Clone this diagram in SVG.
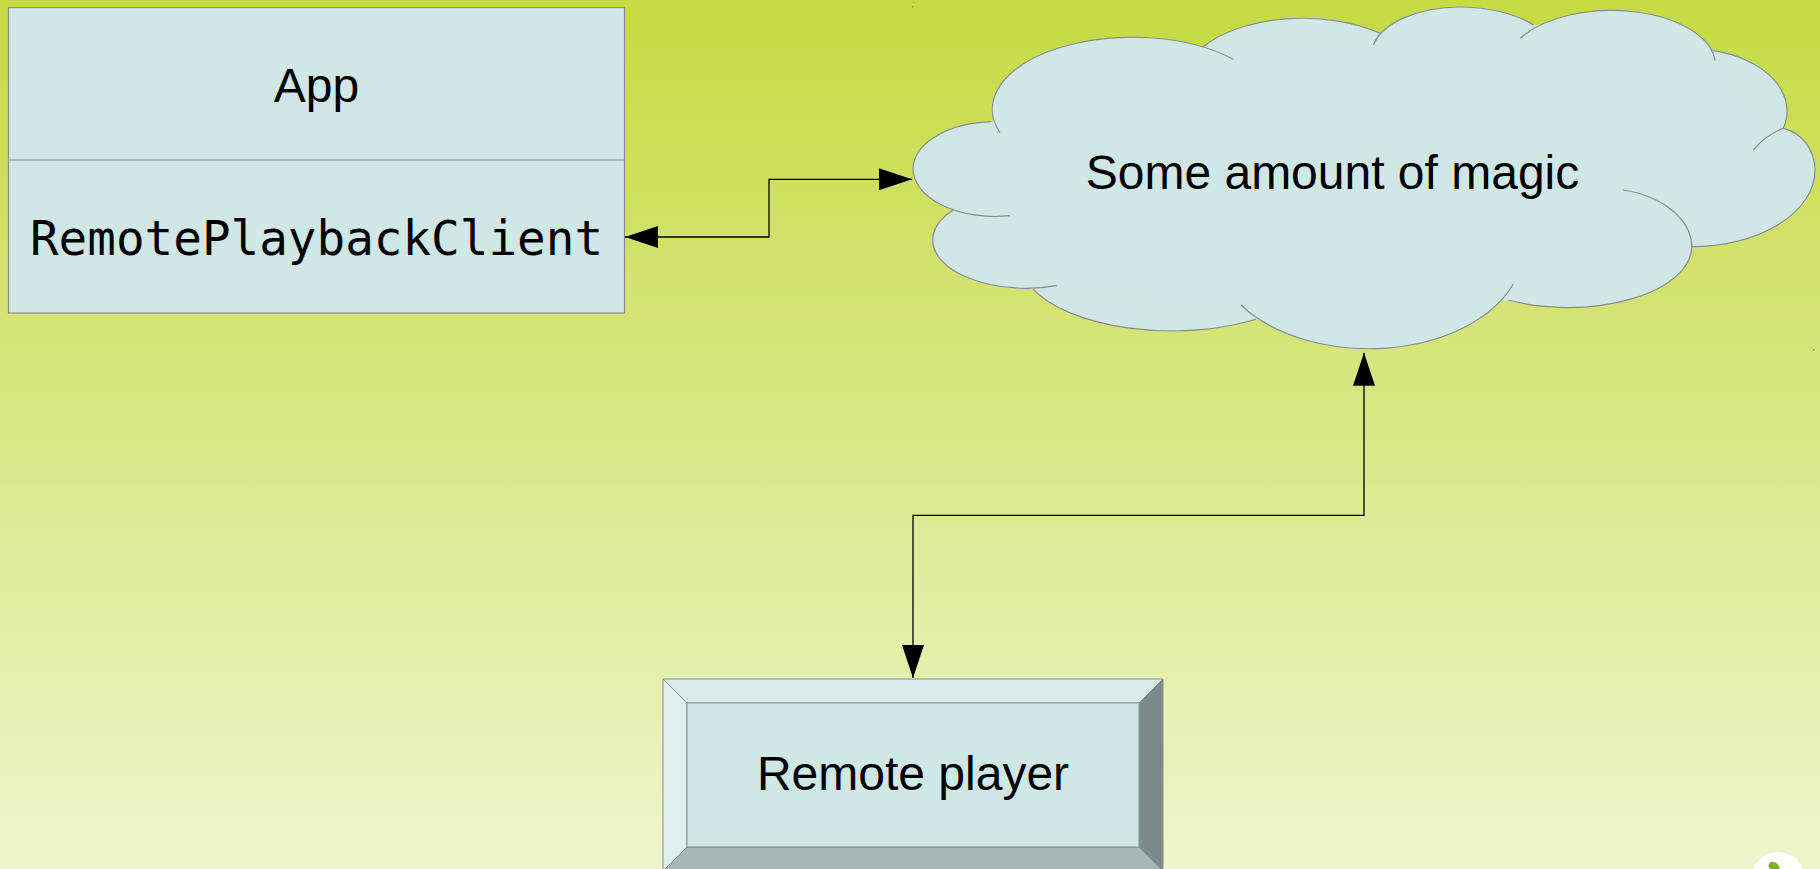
<svg xmlns="http://www.w3.org/2000/svg" xmlns:xlink="http://www.w3.org/1999/xlink" width="1820" height="869" viewBox="0 0 1820 869">
  <defs>
    <linearGradient id="bg" x1="0" y1="0" x2="0" y2="1">
      <stop offset="0" stop-color="#c4db41"/>
      <stop offset="1" stop-color="#eef5cd"/>
    </linearGradient>
    <marker id="arrow" markerUnits="userSpaceOnUse" markerWidth="34" markerHeight="24" refX="33" refY="11" orient="auto-start-reverse" viewBox="0 0 34 24">
      <path d="M0,0 L33,11 L0,22 Z" fill="#000"/>
    </marker>
    <path id="lA" d="M991.7,121.7 A82,48 0 0 0 913,168 A82,48 0 0 0 1010,215.7"/>
    <path id="lB" d="M953.3,210 A93.7,48.3 0 0 0 932.7,240 A93.7,48.3 0 0 0 1056.7,285.7"/>
    <path id="lC" d="M1033.3,289.3 A151.7,70 0 0 0 1256,319.3"/>
    <path id="lD" d="M1241,305 A154.5,100 0 0 0 1513.3,284"/>
    <path id="lE" d="M1508.3,300 A123.7,60.9 0 0 0 1691.7,246.7 A90,58.4 0 0 0 1623.3,190"/>
    <path id="lF" d="M1691.7,246.7 A123.3,76.7 0 0 0 1815,170 A40,43 0 0 0 1783.3,128.3 A75,75 0 0 0 1753.3,150"/>
    <path id="lG" d="M1783.3,128.3 A95,62 0 0 0 1713.3,50.7"/>
    <path id="lH" d="M1715,60.7 A104,54 0 0 0 1520.3,38.3"/>
    <path id="lI" d="M1533.5,25 A94,48 0 0 0 1460,7 A88,48 0 0 0 1373.4,45"/>
    <path id="lJ" d="M1380,33.3 A119,63 0 0 0 1203.3,46.7"/>
    <path id="lK" d="M1233.3,59.3 A140,72 0 0 0 1000,132.7"/>
  </defs>
  <style>
    .label { font-family: "Liberation Sans", Arial, sans-serif; font-size: 48px; fill: #000; text-anchor: middle; }
    .mono { font-family: "DejaVu Sans Mono", "Liberation Mono", monospace; font-size: 47.6px; fill: #000; text-anchor: middle; }
    .shape { fill: #cfe7e5; stroke: #8a8a8a; stroke-width: 1.2; }
    .lobefill { fill: #cfe7e5; stroke: #cfe7e5; stroke-width: 1; }
    .lobe { fill: none; stroke: #8a8a8a; stroke-width: 1.2; }
    .conn { fill: none; stroke: #000; stroke-width: 1.3; marker-start: url(#arrow); marker-end: url(#arrow); }
    .bevel { stroke: #8c8c8c; stroke-width: 1; }
  </style>

  <rect x="0" y="0" width="1820" height="869" fill="url(#bg)"/>
  <rect x="912" y="6" width="1.5" height="1.5" fill="#8a8a8a"/>
  <rect x="1813" y="349" width="1.5" height="1.5" fill="#8a8a8a"/>

  <g id="app">
    <rect class="shape" x="8.5" y="7.5" width="616" height="305.5"/>
    <line x1="8.5" y1="160" x2="624.5" y2="160" stroke="#8a8a8a" stroke-width="1.2"/>
    <text class="label" x="316.5" y="102">App</text>
    <text class="mono" x="316.5" y="255">RemotePlaybackClient</text>
  </g>

  <g id="cloud">
    <polygon class="lobefill" points="991.7,121.7 953.3,210 1033.3,289.3 1256,319.3 1508.3,300 1691.7,246.7 1783.3,128.3 1713.3,50.7 1533.5,25 1380,33.3 1203.3,46.7"/>
    <use xlink:href="#lA" href="#lA" class="lobefill"/>
    <use xlink:href="#lB" href="#lB" class="lobefill"/>
    <use xlink:href="#lC" href="#lC" class="lobefill"/>
    <use xlink:href="#lD" href="#lD" class="lobefill"/>
    <use xlink:href="#lE" href="#lE" class="lobefill"/>
    <use xlink:href="#lF" href="#lF" class="lobefill"/>
    <use xlink:href="#lG" href="#lG" class="lobefill"/>
    <use xlink:href="#lH" href="#lH" class="lobefill"/>
    <use xlink:href="#lI" href="#lI" class="lobefill"/>
    <use xlink:href="#lJ" href="#lJ" class="lobefill"/>
    <use xlink:href="#lK" href="#lK" class="lobefill"/>
    <use xlink:href="#lA" href="#lA" class="lobe"/>
    <use xlink:href="#lB" href="#lB" class="lobe"/>
    <use xlink:href="#lC" href="#lC" class="lobe"/>
    <use xlink:href="#lD" href="#lD" class="lobe"/>
    <use xlink:href="#lE" href="#lE" class="lobe"/>
    <use xlink:href="#lF" href="#lF" class="lobe"/>
    <use xlink:href="#lG" href="#lG" class="lobe"/>
    <use xlink:href="#lH" href="#lH" class="lobe"/>
    <use xlink:href="#lI" href="#lI" class="lobe"/>
    <use xlink:href="#lJ" href="#lJ" class="lobe"/>
    <use xlink:href="#lK" href="#lK" class="lobe"/>
    <text class="label" x="1332.5" y="189">Some amount of magic</text>
  </g>

  <g id="remote-player">
    <polygon class="bevel" points="663,679 1163,679 1139,703 687,703" fill="#d8ebea"/>
    <polygon class="bevel" points="663,679 687,703 687,847 663,871" fill="#e0efee"/>
    <polygon class="bevel" points="1163,679 1163,871 1139,847 1139,703" fill="#7e8a88"/>
    <polygon class="bevel" points="663,871 687,847 1139,847 1163,871" fill="#a5b7b4"/>
    <rect class="bevel" x="687" y="703" width="452" height="144" fill="#cfe7e5"/>
    <text class="label" x="913" y="790">Remote player</text>
  </g>

  <g id="connectors">
    <polyline class="conn" points="625,237 769,237 769,179.3 912,179.3"/>
    <polyline class="conn" points="1364,352.7 1364,515.3 913,515.3 913,678"/>
  </g>

  <g id="logo">
    <circle cx="1778" cy="878" r="26" fill="#ffffff"/>
    <ellipse cx="1774" cy="867" rx="6" ry="4.5" transform="rotate(40 1774 867)" fill="#7cb51f"/>
  </g>
</svg>
